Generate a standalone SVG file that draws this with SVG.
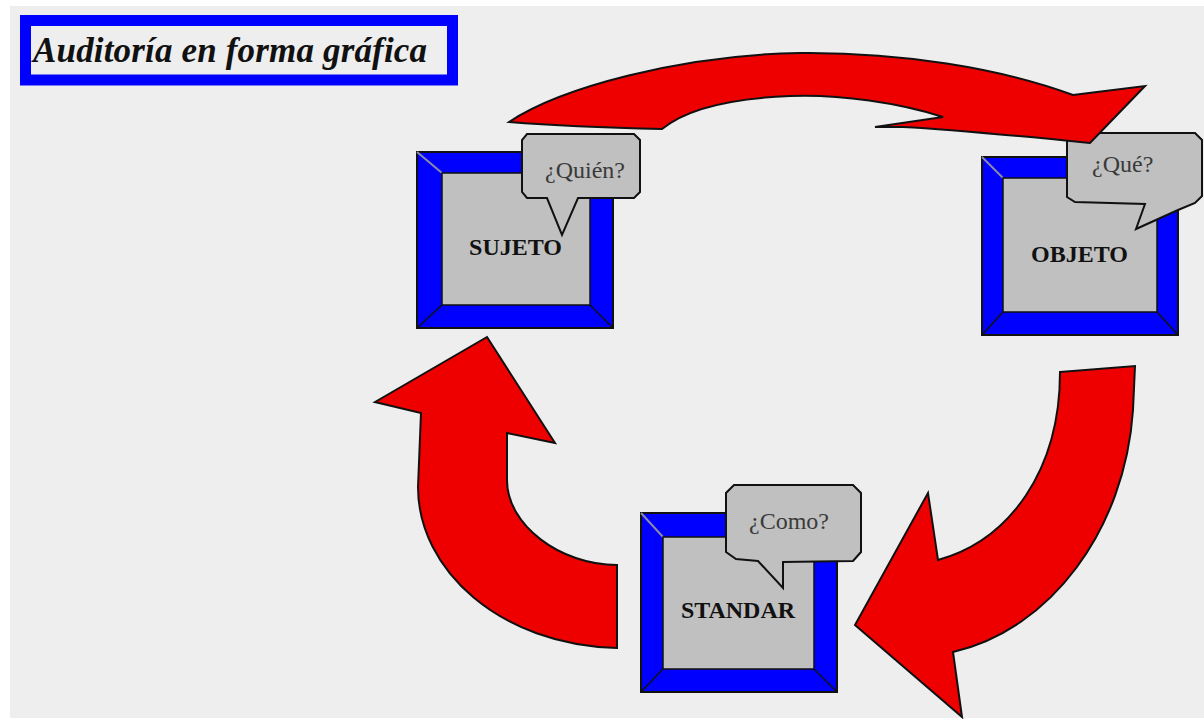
<svg xmlns="http://www.w3.org/2000/svg" width="1204" height="719" viewBox="0 0 1204 719">
<style>
.outer{fill:#0000ff;stroke:#111;stroke-width:2}
.inner{fill:#c0c0c0;stroke:#111;stroke-width:1.5}
.bev{stroke:#111;stroke-width:1.5}
.bevl{stroke:#8a8aa8;stroke-width:2}
.lbl{font-family:"Liberation Serif",serif;font-weight:bold;font-size:24px;fill:#111;text-anchor:middle}
.bub{fill:#c0c0c0;stroke:#111;stroke-width:2;stroke-linejoin:miter}
.q{font-family:"Liberation Serif",serif;font-size:24px;fill:#3a3a3a}
.arr{fill:#ee0000;stroke:#111;stroke-width:2;stroke-linejoin:miter}
</style>
<rect x="0" y="0" width="1204" height="719" fill="#ffffff"/>
<rect x="10" y="6" width="1194" height="712" fill="#eeeeee"/>
<g id="title">
<rect x="25.5" y="20.5" width="427" height="59.5" fill="none" stroke="#0000ff" stroke-width="11"/>
<text x="33" y="62" font-family="Liberation Serif, serif" font-style="italic" font-weight="bold" font-size="35" fill="#111" textLength="394">Auditoría en forma gráfica</text>
</g>
<g id="sujeto">
<rect class="outer" x="417" y="152" width="196" height="176"/>
<line class="bevl" x1="417" y1="152" x2="442" y2="173"/>
<line class="bev" x1="613" y1="152" x2="590" y2="173"/>
<line class="bev" x1="417" y1="328" x2="442" y2="305"/>
<line class="bev" x1="613" y1="328" x2="590" y2="305"/>
<rect class="inner" x="442" y="173" width="148" height="132"/>
<text class="lbl" x="515.5" y="255">SUJETO</text>
<path class="bub" d="M527,134 L634,134 L640,140 L640,192 L634,198 L578,198 L562,235 L547,198 L527,198 L522,192 L522,140 Z"/>
<text class="q" x="545" y="178">¿Quién?</text>
</g>
<g id="objeto">
<rect class="outer" x="982" y="157" width="196" height="178"/>
<line class="bevl" x1="982" y1="157" x2="1003" y2="178"/>
<line class="bev" x1="1178" y1="157" x2="1157" y2="178"/>
<line class="bev" x1="982" y1="335" x2="1003" y2="312"/>
<line class="bev" x1="1178" y1="335" x2="1157" y2="312"/>
<rect class="inner" x="1003" y="178" width="154" height="134"/>
<text class="lbl" x="1079.5" y="262">OBJETO</text>
<path class="bub" d="M1074,133 L1195,133 L1202,140 L1202,196 L1195,203 L1178,210 L1136,229 L1145,204 L1075,202 L1067,197 L1067,140 Z"/>
<text class="q" x="1092" y="172" font-size="21">¿Qué?</text>
</g>
<g id="standar">
<rect class="outer" x="641" y="513" width="196" height="179"/>
<line class="bevl" x1="641" y1="513" x2="663" y2="537"/>
<line class="bev" x1="837" y1="513" x2="814" y2="537"/>
<line class="bev" x1="641" y1="692" x2="663" y2="669"/>
<line class="bev" x1="837" y1="692" x2="814" y2="669"/>
<rect class="inner" x="663" y="537" width="151" height="132"/>
<text class="lbl" x="738" y="618">STANDAR</text>
<path class="bub" d="M734,485 L853,485 L861,493 L861,552 L853,561 L783,562 L783,588 L758,561 L736,559 L726,552 L726,493 Z"/>
<text class="q" x="749" y="529">¿Como?</text>
</g>
<g id="connectors">
<path class="arr" d="M509,122 C560,88 680,55 800,53 C900,52 1000,68 1073,95 L1097,92 L1145,86 L1090,143 C1040,138 960,130 903,127 L875,127 L943,117 C900,103 840,94 790,96 C740,98 690,106 662,129 C620,128 560,126 509,122 Z"/>
<path class="arr" d="M1060,372 L1135,366 L1133,410 C1125,530 1050,630 953,652 L962,717 L855,625 L928,493 L938,560 C1010,540 1060,470 1060,372 Z"/>
<path class="arr" d="M487,337 L555,443 L507,433 L507,480 C507,525 560,565 617,565 L617,648 C500,645 418,570 418,487 L421,413 L375,402 Z"/>
</g>
</svg>
